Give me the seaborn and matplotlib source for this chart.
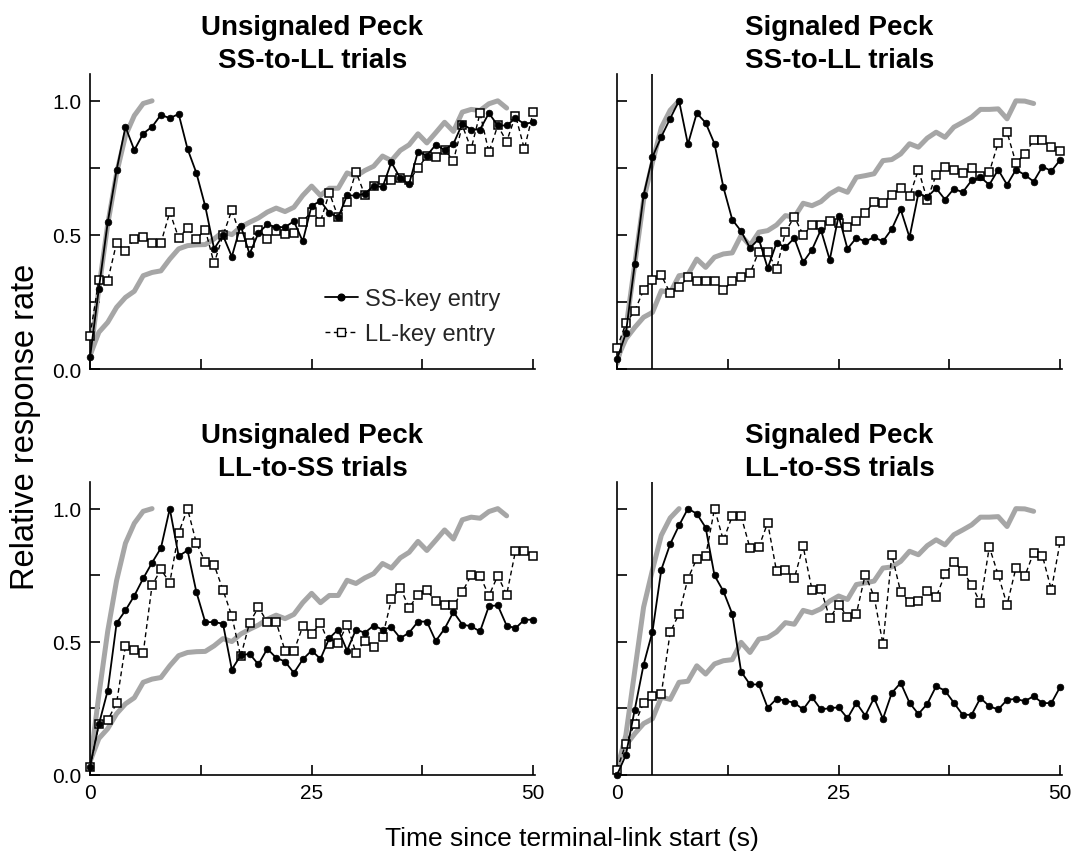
import numpy as np
import pandas as pd
import matplotlib
matplotlib.use("Agg")
import matplotlib.pyplot as plt
import seaborn as sns
from matplotlib.lines import Line2D

sns.set_theme(style="white")
plt.rcParams['font.family'] = ['Liberation Sans', 'DejaVu Sans']

time_s = list(range(51))

# Unsignaled Peck, SS-to-LL trials
uns_sl_ss = [0.043, 0.30, 0.547, 0.742, 0.903, 0.816, 0.878, 0.903, 0.948, 0.935, 0.951, 0.821, 0.731, 0.607,
             0.448, 0.498, 0.419, 0.535, 0.429, 0.507, 0.539, 0.529, 0.529, 0.551, 0.476, 0.609, 0.626, 0.582,
             0.566, 0.647, 0.647, 0.653, 0.684, 0.678, 0.771, 0.711, 0.690, 0.811, 0.796, 0.836, 0.817, 0.840,
             0.914, 0.893, 0.893, 0.954, 0.908, 0.908, 0.935, 0.914, 0.920]
uns_sl_ll = [0.124, 0.332, 0.330, 0.470, 0.440, 0.485, 0.493, 0.470, 0.470, 0.585, 0.489, 0.525, 0.485, 0.520,
             0.394, 0.498, 0.592, 0.494, 0.469, 0.520, 0.485, 0.516, 0.502, 0.506, 0.550, 0.587, 0.550, 0.657,
             0.566, 0.624, 0.736, 0.649, 0.684, 0.705, 0.705, 0.711, 0.703, 0.749, 0.794, 0.790, 0.817, 0.777,
             0.908, 0.821, 0.954, 0.808, 0.908, 0.848, 0.945, 0.821, 0.958]

# Signaled Peck, SS-to-LL trials
sig_sl_ss = [0.037, 0.133, 0.391, 0.648, 0.791, 0.866, 0.934, 1.0, 0.838, 0.954, 0.918, 0.84, 0.678, 0.557,
             0.514, 0.451, 0.485, 0.376, 0.47, 0.454, 0.488, 0.398, 0.445, 0.519, 0.407, 0.572, 0.448, 0.489,
             0.476, 0.491, 0.476, 0.522, 0.595, 0.491, 0.655, 0.641, 0.674, 0.632, 0.672, 0.659, 0.703, 0.715,
             0.687, 0.743, 0.687, 0.743, 0.724, 0.699, 0.755, 0.738, 0.780]
sig_sl_ll = [0.078, 0.17, 0.217, 0.294, 0.332, 0.35, 0.282, 0.304, 0.342, 0.33, 0.33, 0.33, 0.295, 0.327,
             0.342, 0.357, 0.438, 0.435, 0.373, 0.51, 0.568, 0.5, 0.537, 0.537, 0.553, 0.546, 0.531, 0.551,
             0.581, 0.624, 0.618, 0.65, 0.674, 0.644, 0.743, 0.631, 0.724, 0.752, 0.743, 0.73, 0.749, 0.721,
             0.734, 0.843, 0.883, 0.769, 0.8, 0.854, 0.854, 0.827, 0.812]

# Unsignaled Peck, LL-to-SS trials
uns_ls_ss = [0.031, 0.19, 0.317, 0.57, 0.618, 0.673, 0.738, 0.797, 0.852, 1.0, 0.822, 0.843, 0.687, 0.574,
             0.574, 0.568, 0.396, 0.449, 0.455, 0.415, 0.474, 0.44, 0.426, 0.383, 0.434, 0.467, 0.436, 0.514,
             0.546, 0.467, 0.546, 0.534, 0.561, 0.546, 0.555, 0.514, 0.534, 0.576, 0.576, 0.503, 0.549, 0.612,
             0.565, 0.558, 0.539, 0.634, 0.637, 0.561, 0.551, 0.583, 0.583]
uns_ls_ll = [0.029, 0.19, 0.206, 0.27, 0.486, 0.471, 0.457, 0.712, 0.772, 0.722, 0.909, 1.0, 0.871, 0.8,
             0.789, 0.695, 0.597, 0.445, 0.571, 0.63, 0.574, 0.574, 0.467, 0.465, 0.558, 0.53, 0.57, 0.49,
             0.496, 0.564, 0.459, 0.503, 0.482, 0.518, 0.659, 0.703, 0.628, 0.677, 0.693, 0.652, 0.637, 0.637,
             0.687, 0.75, 0.748, 0.673, 0.748, 0.677, 0.841, 0.841, 0.821]

# Signaled Peck, LL-to-SS trials
sig_ls_ss = [0.0, 0.075, 0.245, 0.414, 0.538, 0.771, 0.867, 0.937, 1.0, 0.981, 0.929, 0.749, 0.69, 0.605,
             0.388, 0.34, 0.34, 0.252, 0.286, 0.279, 0.271, 0.246, 0.292, 0.246, 0.251, 0.254, 0.213, 0.271,
             0.223, 0.289, 0.211, 0.308, 0.346, 0.271, 0.229, 0.267, 0.333, 0.317, 0.271, 0.226, 0.226, 0.289,
             0.258, 0.246, 0.282, 0.286, 0.277, 0.296, 0.27, 0.27, 0.331]
sig_ls_ll = [0.019, 0.118, 0.191, 0.271, 0.298, 0.305, 0.536, 0.605, 0.737, 0.812, 0.822, 1.0, 0.881, 0.972,
             0.972, 0.852, 0.856, 0.947, 0.764, 0.768, 0.739, 0.858, 0.695, 0.697, 0.589, 0.64, 0.595, 0.605,
             0.752, 0.670, 0.492, 0.827, 0.687, 0.649, 0.652, 0.689, 0.668, 0.753, 0.8, 0.766, 0.714, 0.645,
             0.856, 0.752, 0.639, 0.777, 0.746, 0.835, 0.822, 0.695, 0.877]

# Grey reference curves (baseline), shared within each column
uns_ref_ss = [0.04, 0.30, 0.54, 0.73, 0.87, 0.945, 0.99, 1.0]
uns_ref_ll = [0.05, 0.137, 0.174, 0.23, 0.267, 0.29, 0.348, 0.36, 0.366, 0.41, 0.448, 0.46, 0.463, 0.464,
              0.485, 0.512, 0.501, 0.529, 0.547, 0.563, 0.585, 0.6, 0.587, 0.603, 0.647, 0.682, 0.647, 0.674,
              0.674, 0.731, 0.719, 0.740, 0.756, 0.794, 0.777, 0.815, 0.836, 0.877, 0.843, 0.881, 0.920, 0.886,
              0.958, 0.968, 0.964, 0.989, 1.0, 0.973]
sig_ref_ss = [0.02, 0.15, 0.39, 0.63, 0.77, 0.9, 0.965, 1.0]
sig_ref_ll = [0.037, 0.112, 0.155, 0.193, 0.211, 0.292, 0.284, 0.348, 0.352, 0.41, 0.379, 0.417, 0.429, 0.433,
              0.498, 0.46, 0.51, 0.516, 0.537, 0.572, 0.566, 0.618, 0.609, 0.624, 0.653, 0.672, 0.659, 0.715,
              0.721, 0.728, 0.777, 0.781, 0.802, 0.84, 0.827, 0.861, 0.883, 0.864, 0.902, 0.920, 0.939, 0.968,
              0.968, 0.970, 0.933, 1.0, 0.999, 0.99]

signal_onset = 4

panels = [
    ("Unsignaled Peck\nSS-to-LL trials", uns_sl_ss, uns_sl_ll, uns_ref_ss, uns_ref_ll, False),
    ("Signaled Peck\nSS-to-LL trials", sig_sl_ss, sig_sl_ll, sig_ref_ss, sig_ref_ll, True),
    ("Unsignaled Peck\nLL-to-SS trials", uns_ls_ss, uns_ls_ll, uns_ref_ss, uns_ref_ll, False),
    ("Signaled Peck\nLL-to-SS trials", sig_ls_ss, sig_ls_ll, sig_ref_ss, sig_ref_ll, True),
]

fig = plt.figure(figsize=(10.77, 8.54), dpi=100)
W, H = 1077, 854
lefts = [90, 617]
tops = [75, 483]
bottoms = [370, 776]
aw = 445

GREY = '#a6a6a6'
for i, (title, ss, ll, rss, rll, signaled) in enumerate(panels):
    r, c = divmod(i, 2)
    ax = fig.add_axes([lefts[c] / W, 1 - bottoms[r] / H, aw / W, (bottoms[r] - tops[r]) / H])
    sns.lineplot(x=time_s[:len(rll)], y=rll, ax=ax, color=GREY, linewidth=3.6, zorder=1)
    sns.lineplot(x=time_s[:len(rss)], y=rss, ax=ax, color=GREY, linewidth=3.6, zorder=1)
    if signaled:
        ax.axvline(signal_onset, color='black', linewidth=1.2, zorder=2)
    sns.lineplot(x=time_s, y=ll, ax=ax, color='black', linewidth=1.0, linestyle=(0, (3.5, 2.5)),
                 marker='s', markersize=6.3, markerfacecolor='white', markeredgecolor='black',
                 markeredgewidth=1.1, zorder=3, clip_on=False)
    sns.lineplot(x=time_s, y=ss, ax=ax, color='black', linewidth=1.3, marker='o', markersize=4.8,
                 markerfacecolor='black', markeredgecolor='black', markeredgewidth=0.5, zorder=4,
                 clip_on=False)
    ax.set_xlim(0, 50.2)
    ax.set_ylim(0, 1.1)
    sns.despine(ax=ax)
    for s in ['left', 'bottom']:
        ax.spines[s].set_color('black')
        ax.spines[s].set_linewidth(1.2)
    ax.set_xticks([0, 12.5, 25, 37.5, 50])
    ax.set_yticks([0, 0.25, 0.5, 0.75, 1.0])
    if r == 1:
        ax.set_xticklabels(['0', '', '25', '', '50'])
    else:
        ax.set_xticklabels([])
    if c == 0:
        ax.set_yticklabels(['0.0', '', '0.5', '', '1.0'])
    else:
        ax.set_yticklabels([])
    ax.tick_params(direction='in', length=7, width=1.2, color='black', labelsize=15,
                   labelcolor='black', pad=6, left=True, bottom=True)
    ax.set_xlabel('')
    ax.set_ylabel('')
    ax.set_title(title, fontsize=20, fontweight='bold', color='black', pad=5, linespacing=1.35)
    ax.grid(False)
    if i == 0:
        handles = [
            Line2D([], [], color='black', linewidth=1.3, marker='o', markersize=4.8),
            Line2D([], [], color='black', linewidth=1.0, linestyle=(0, (3.5, 2.5)), marker='s',
                   markersize=6.3, markerfacecolor='white', markeredgecolor='black'),
        ]
        ax.legend(handles, ['SS-key entry', 'LL-key entry'], loc='center left',
                  bbox_to_anchor=(0.49, 0.177), frameon=False, fontsize=17, handlelength=1.4,
                  handletextpad=0.3, labelspacing=0.55, borderpad=0.2)

fig.text(0.024, 0.5, 'Relative response rate', rotation=90, ha='center', va='center',
         fontsize=23.5, color='black')
fig.text(0.531, 0.017, 'Time since terminal-link start (s)', ha='center', va='center',
         fontsize=19, color='black')

fig.savefig('out.png', dpi=100, facecolor='white')
